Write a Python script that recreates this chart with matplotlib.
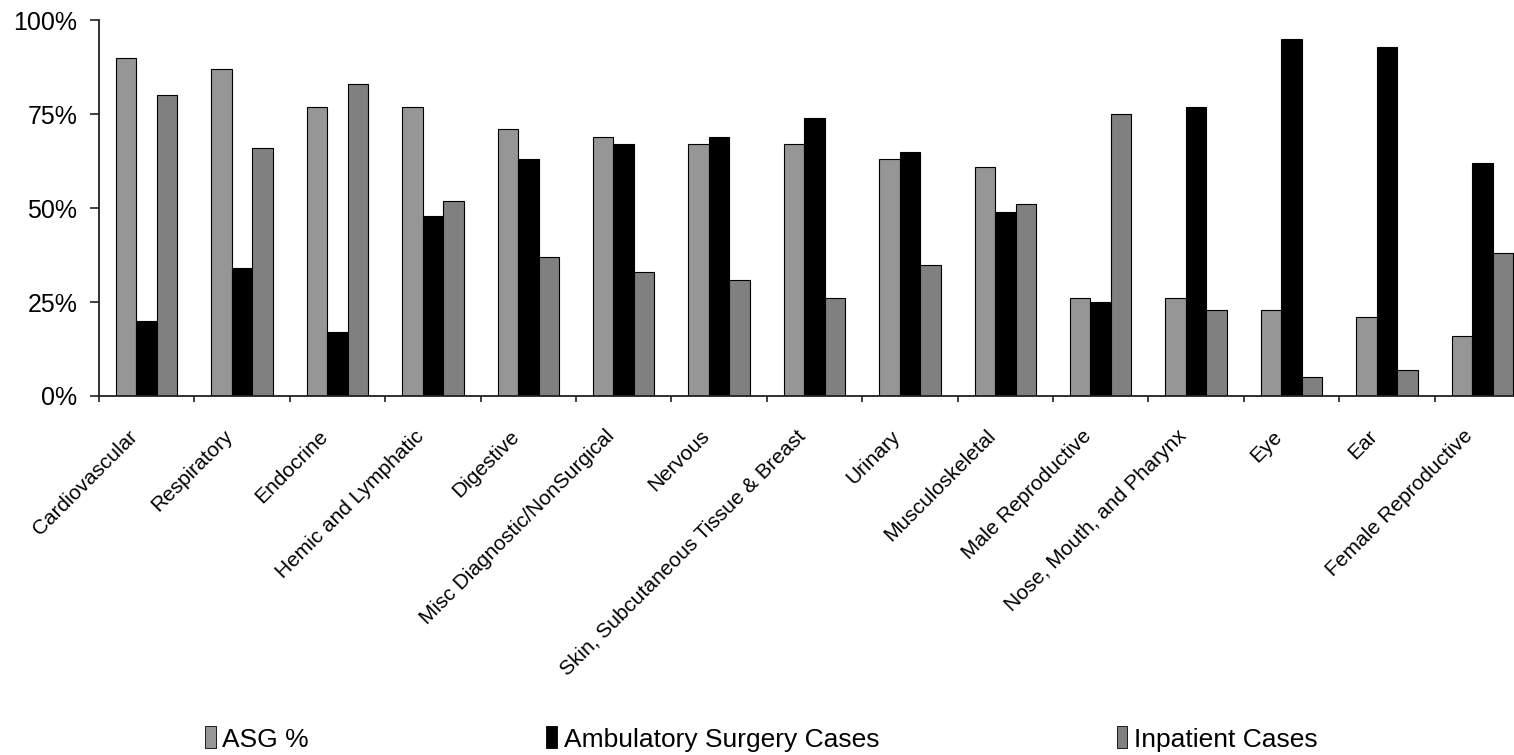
import numpy as np
import matplotlib.pyplot as plt
from matplotlib.patches import Patch

plt.rcParams['font.family'] = ['Liberation Sans', 'DejaVu Sans']

# Body systems and the three percentage series
categories = ["Cardiovascular", "Respiratory", "Endocrine", "Hemic and Lymphatic",
              "Digestive", "Misc Diagnostic/NonSurgical", "Nervous",
              "Skin, Subcutaneous Tissue & Breast", "Urinary", "Musculoskeletal",
              "Male Reproductive", "Nose, Mouth, and Pharynx", "Eye", "Ear",
              "Female Reproductive"]
asg_pct = [90, 87, 77, 77, 71, 69, 67, 67, 63, 61, 26, 26, 23, 21, 16]
ambulatory = [20, 34, 17, 48, 63, 67, 69, 74, 65, 49, 25, 77, 95, 93, 62]
inpatient = [80, 66, 83, 52, 37, 33, 31, 26, 35, 51, 75, 23, 5, 7, 38]

series = [("ASG %", asg_pct, "#969696"),
          ("Ambulatory Surgery Cases", ambulatory, "#000000"),
          ("Inpatient Cases", inpatient, "#808080")]

fig = plt.figure(figsize=(15.14, 7.55), dpi=100)
# the plot area runs past the right edge, so the last group is cut off
ax = fig.add_axes([99 / 1514, 1 - 396 / 755, 1431 / 1514, (396 - 20.3) / 755])

x = np.arange(len(categories))
w = 0.214
for k, (name, vals, col) in enumerate(series):
    ax.bar(x + (k - 1) * w, vals, w, color=col, edgecolor="black",
           linewidth=0.8, label=name)

ax.set_xlim(-0.5, len(categories) - 0.5)
ax.set_ylim(0, 100)

for s in ("top", "right"):
    ax.spines[s].set_visible(False)
for s in ("left", "bottom"):
    ax.spines[s].set_linewidth(1.3)
    ax.spines[s].set_color("#202020")

ax.set_yticks([0, 25, 50, 75, 100])
ax.set_yticklabels(["0%", "25%", "50%", "75%", "100%"], fontsize=18)
ax.tick_params(axis="y", length=6.5, width=1.2, pad=9, color="#202020")

# boundary ticks between groups, labels sit on minor ticks
ax.set_xticks(np.arange(len(categories) + 1) - 0.5)
ax.set_xticklabels([])
ax.tick_params(axis="x", which="major", length=4, width=1.2, color="#202020")
ax.set_xticks(x - 0.2, minor=True)
ax.set_xticklabels(categories, minor=True, fontsize=15, rotation=45,
                   ha="right", va="top", rotation_mode="anchor")
ax.tick_params(axis="x", which="minor", length=0, pad=22)

handles = [Patch(facecolor=c, edgecolor="black", linewidth=0.6, label=n)
           for n, _, c in series]
fig.legend(handles=handles, loc="center left", bbox_to_anchor=(192 / 1514, 1 - 739 / 755),
           ncol=3, frameon=False, fontsize=19, handlelength=0.4, handleheight=0.9,
           handletextpad=0.25, columnspacing=9.0, borderpad=0)

fig.savefig("out.png", dpi=100)
